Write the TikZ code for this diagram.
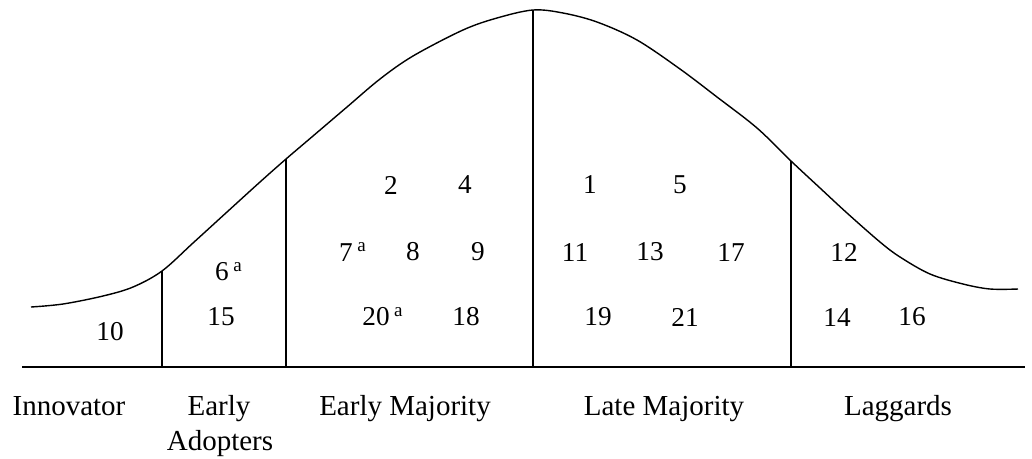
\documentclass[tikz,border=0pt]{standalone}
\usepackage{fontspec}
\setmainfont{Liberation Serif}
\usetikzlibrary{positioning}
\newcommand{\supa}{\rlap{\,\textsuperscript{a}}}
\tikzset{
  num/.style={font=\fontsize{15.5}{18}\selectfont, inner sep=0pt},
  lbl/.style={font=\fontsize{16.5}{18}\selectfont, inner sep=0pt, anchor=base},
}

\begin{document}
\begin{tikzpicture}[x=0.02cm,y=-0.02cm]
  \useasboundingbox (0,0) rectangle (1032,458);
  % adoption curve
  \draw[line width=0.8pt] plot[smooth,tension=0.55] coordinates {
    (31,307) (63,304) (103,296) (133,287) (162,271) (193,243) (227,212)
    (260,182) (286,159) (313,136) (347,107) (380,79) (413,56) (463,30)
    (497,18) (533,10) (563,13) (597,22) (637,40) (680,69) (717,97)
    (757,128) (791,161) (820,188) (847,213) (880,242) (900,257) (930,274)
    (963,284) (990,289) (1018,289)};
  \draw[line width=1.4pt] (22,367) -- (1025,367);
  % segment borders
  \foreach \x/\y in {162/271,286/159,533/10,791/161}
    {\draw[line width=0.85pt] (\x,367) -- (\x,\y);}

  % innovators and early adopters
  \node[num] (n10) at (110,332) {10};
  \node[num] (n6)  at (222,272) {6\supa};
  \node[num] (n15) at (221,317) {15};
  % early majority
  \node[num] (n2)  at (391,185) {2};
  \node[num] (n4)  at (465,185) {4};
  \node[num] (n7)  at (346,252) {7\supa};
  \node[num] (n8)  at (413,252) {8};
  \node[num] (n9)  at (478,252) {9};
  \node[num] (n20) at (376,317) {20\supa};
  \node[num] (n18) at (466,317) {18};
  % late majority
  \node[num] (n1)  at (590,185) {1};
  \node[num] (n5)  at (680,185) {5};
  \node[num] (n11) at (575,252) {11};
  \node[num] (n13) at (650,252) {13};
  \node[num] (n17) at (731,252) {17};
  \node[num] (n19) at (598,317) {19};
  \node[num] (n21) at (685,317) {21};
  % laggards
  \node[num] (n12) at (844,252) {12};
  \node[num] (n14) at (837,317) {14};
  \node[num] (n16) at (912,317) {16};

  % category names
  \node[lbl] (innov)  at (69,415)  {Innovator};
  \node[lbl] (early)  at (219,415) {Early};
  \node[lbl] (adopt)  at (220,450) {Adopters};
  \node[lbl] (emaj)   at (405,415) {Early Majority};
  \node[lbl] (lmaj)   at (664,415) {Late Majority};
  \node[lbl] (lagg)   at (898,415) {Laggards};
\end{tikzpicture}
\end{document}
